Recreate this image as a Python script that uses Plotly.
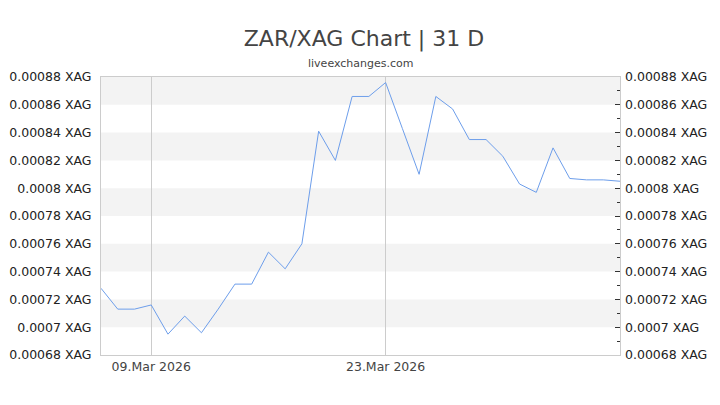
import pandas as pd
import plotly.graph_objects as go

# ZAR/XAG daily rate, 06.Mar 2026 - 06.Apr 2026
dates = pd.date_range("2026-03-06", "2026-04-06", freq="D")
rates = [
    0.000728, 0.000713, 0.000713, 0.000716, 0.000695, 0.000708, 0.000696, 0.000713,
    0.000731, 0.000731, 0.000754, 0.000742, 0.000760, 0.000841, 0.000820, 0.000866,
    0.000866, 0.000876, 0.000843, 0.000810, 0.000866, 0.000857, 0.000835, 0.000835,
    0.000823, 0.000803, 0.000797, 0.000829, 0.000807, 0.000806, 0.000806, 0.000805,
]
y_ticks = [0.00068, 0.0007, 0.00072, 0.00074, 0.00076, 0.00078, 0.0008,
           0.00082, 0.00084, 0.00086, 0.00088]
y_labels = [f"{v:g} XAG" for v in y_ticks]
x_ticks = ["2026-03-09", "2026-03-23"]

font = "DejaVu Sans"
fig = go.Figure()

fig.add_trace(go.Scatter(x=dates, y=rates, mode="lines",
                         line=dict(color="#6d9eeb", width=1), yaxis="y"))
# invisible copy so the right-hand axis draws
fig.add_trace(go.Scatter(x=dates, y=rates, mode="lines",
                         line=dict(color="rgba(0,0,0,0)", width=0),
                         yaxis="y2", hoverinfo="skip"))

# alternating grey bands
for lo, hi in zip(y_ticks[1::2], y_ticks[2::2]):
    fig.add_shape(type="rect", xref="paper", yref="y", x0=0, x1=1, y0=lo, y1=hi,
                  fillcolor="#f3f3f3", line_width=0, layer="below")

# the page body adds an 8px offset, so the figure is a bit smaller than the window
fig.update_layout(
    width=712, height=397,
    margin=dict(l=93, r=100, t=69, b=50),
    paper_bgcolor="white", plot_bgcolor="white",
    showlegend=False,
    font=dict(family=font, size=12.5, color="#222"),
    title=dict(text="ZAR/XAG Chart | 31 D", x=0.5, xanchor="center",
               y=0.924, yanchor="middle",
               font=dict(family=font, size=22, color="#444")),
    annotations=[dict(text="liveexchanges.com", xref="paper", yref="paper",
                      x=0.5, y=1.0, yanchor="middle", yshift=14, showarrow=False,
                      font=dict(family=font, size=11, color="#444"))],
    xaxis=dict(range=[dates[0], dates[-1]], tickvals=x_ticks, automargin=False,
               tickformat="%d.%b %Y", showgrid=True, gridcolor="#cccccc",
               gridwidth=1, zeroline=False, showline=True, linecolor="#cccccc",
               mirror=True, ticks="", tickfont=dict(color="#444", size=12.5)),
    yaxis=dict(range=[y_ticks[0], y_ticks[-1]], tickvals=y_ticks, ticktext=y_labels,
               showgrid=False, zeroline=False, showline=True, linecolor="#cccccc",
               mirror=True, ticks="", ticklabelstandoff=6, automargin=False,
               tickfont=dict(size=12.5, color="#222")),
    yaxis2=dict(range=[y_ticks[0], y_ticks[-1]], overlaying="y", side="right",
                tickvals=y_ticks, ticktext=y_labels, showgrid=False, zeroline=False,
                ticks="inside", ticklen=5, tickcolor="#333", ticklabelstandoff=4,
                automargin=False,
                minor=dict(ticks="inside", ticklen=3, dtick=0.00001, tickcolor="#333"),
                tickfont=dict(size=12.5, color="#222")),
)

fig.write_html("out.html")
